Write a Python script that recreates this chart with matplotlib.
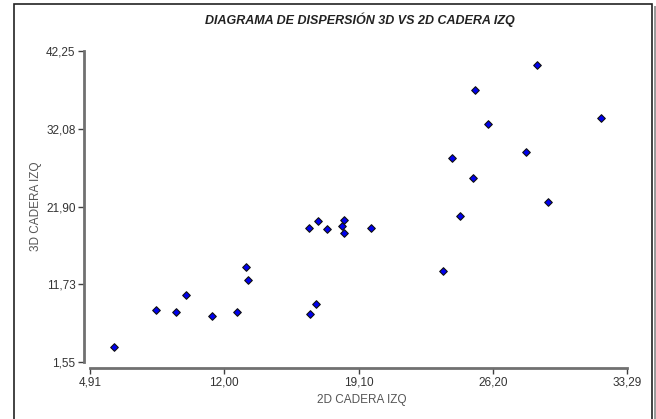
import matplotlib
matplotlib.use("Agg")
import matplotlib.pyplot as plt
from matplotlib.patches import Rectangle

plt.rcParams['font.family'] = ['Liberation Sans', 'DejaVu Sans']

title = "DIAGRAMA DE DISPERSIÓN 3D VS 2D CADERA IZQ"
x_label = "2D CADERA IZQ"
y_label = "3D CADERA IZQ"

x_ticks = [4.91, 12.00, 19.10, 26.20, 33.29]
y_ticks = [1.55, 11.73, 21.90, 32.08, 42.25]

x_2d = [6.20, 8.38, 9.47, 9.97, 11.34, 12.66, 13.15, 13.26,
        16.47, 16.98, 17.45, 18.21, 18.35, 18.35, 16.54, 16.86,
        19.76, 23.55, 24.48, 29.13,
        28.54, 25.24, 25.96, 31.93, 27.94, 24.04, 25.14]
y_3d = [3.55, 8.32, 8.05, 10.36, 7.61, 8.05, 14.02, 12.28,
        19.05, 20.01, 18.92, 19.31, 20.14, 18.47, 7.79, 9.14,
        19.05, 13.46, 20.66, 22.53,
        40.46, 37.19, 32.74, 33.52, 29.08, 28.25, 25.67]

W, H = 656, 419
fig = plt.figure(figsize=(W / 100, H / 100), dpi=100)

# axes placement in pixels
left_px, right_px, bottom_px, top_px = 84, 640, 368, 45
ax = fig.add_axes([left_px / W, 1 - bottom_px / H,
                   (right_px - left_px) / W, (bottom_px - top_px) / H])

xpx = (627 - 90) / (x_ticks[-1] - x_ticks[0])
ypx = (362 - 51) / (y_ticks[-1] - y_ticks[0])
ax.set_xlim(x_ticks[0] - (90 - left_px) / xpx, x_ticks[0] + (right_px - 90) / xpx)
ax.set_ylim(y_ticks[0] - (bottom_px - 362) / ypx, y_ticks[0] + (362 - top_px) / ypx)

ax.scatter(x_2d, y_3d, marker='D', s=15, facecolor='#0000F0',
           edgecolor='#111111', linewidth=0.8, zorder=3)

for s in ['top', 'right']:
    ax.spines[s].set_visible(False)
for s in ['left', 'bottom']:
    ax.spines[s].set_color('#707070')
    ax.spines[s].set_linewidth(2)
ax.spines['left'].set_bounds(y_ticks[0], y_ticks[-1])
ax.spines['bottom'].set_bounds(x_ticks[0], x_ticks[-1])

ax.set_xticks(x_ticks)
ax.set_yticks(y_ticks)
fmt = lambda v: f"{v:.2f}".replace('.', ',')
ax.set_xticklabels([fmt(v) for v in x_ticks])
ax.set_yticklabels([fmt(v) for v in y_ticks])
ax.tick_params(axis='both', direction='out', length=4, width=1, color='#404040',
               labelsize=8.5, labelcolor='#333333', pad=2)

ax.set_xlabel(x_label, fontsize=8.5, color='#555555', labelpad=4)
ax.set_ylabel(y_label, fontsize=8.5, color='#555555', labelpad=3)

fig.text(360 / W, 1 - 20 / H, title, ha='center', va='center',
         fontsize=9, fontweight='bold', fontstyle='italic', color='#222222')

# outer frame with shadow
fig.patches.append(Rectangle((654 / W, 0), 3 / W, 1 - 6 / H,
                             transform=fig.transFigure, facecolor='#9a9a9a',
                             edgecolor='none', zorder=0))
fig.patches.append(Rectangle((14 / W, -0.01), (652 - 14) / W, 1.01 - 4 / H,
                             transform=fig.transFigure, facecolor='none',
                             edgecolor='#222222', linewidth=1.2, zorder=1))

fig.savefig("out.png", dpi=100)
